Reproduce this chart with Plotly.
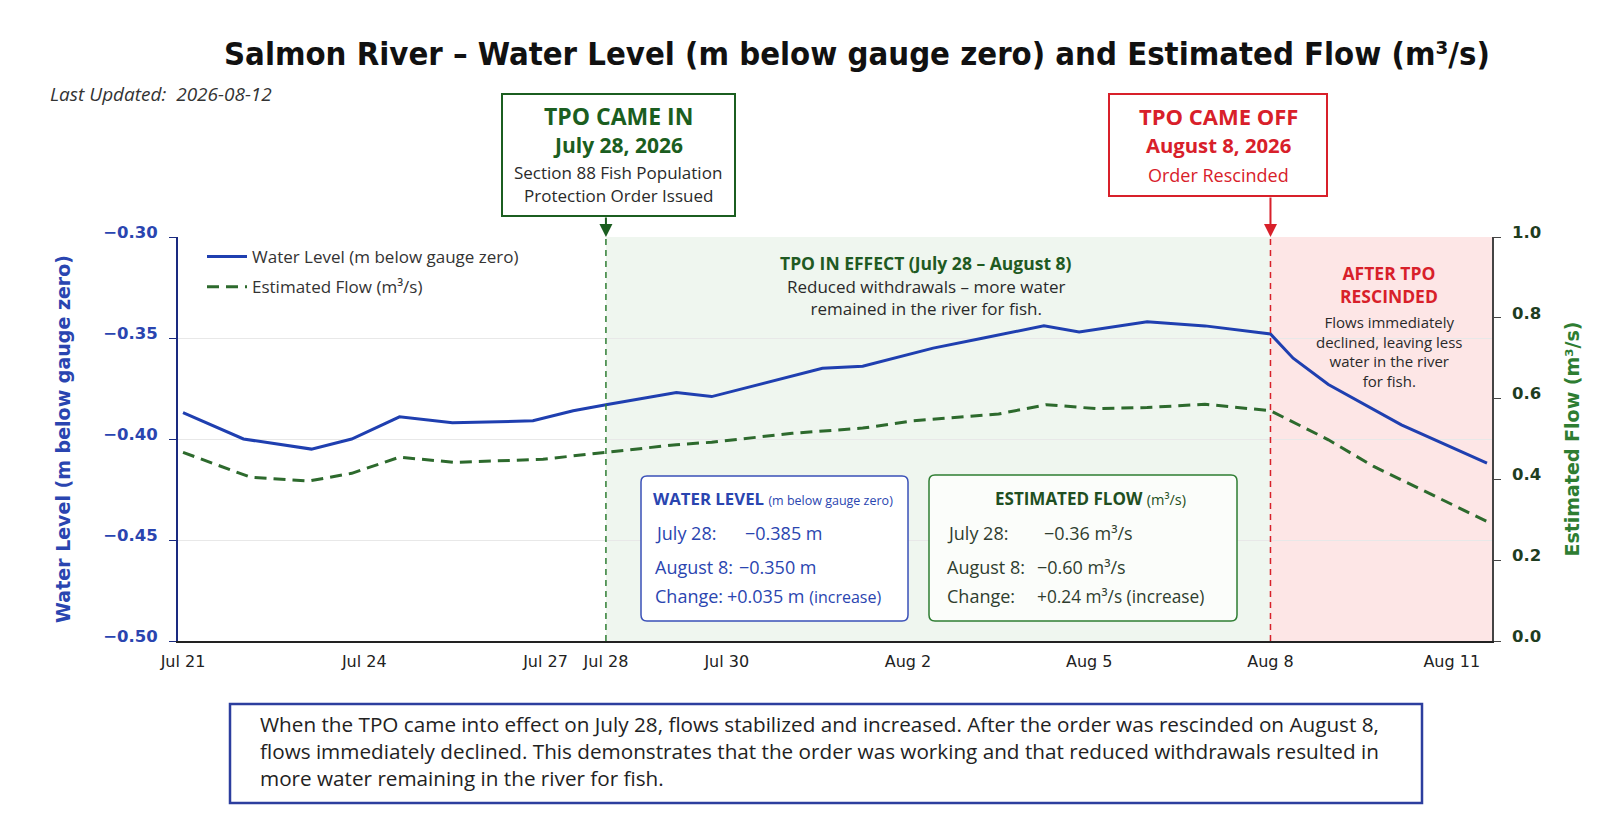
import plotly.graph_objects as go

# ---------------- data ----------------
level_times = ["2026-07-21 00:00", "2026-07-22 00:00", "2026-07-23 03:00", "2026-07-23 19:00",
               "2026-07-24 14:00", "2026-07-25 11:00", "2026-07-26 19:00", "2026-07-27 11:00",
               "2026-07-28 00:00", "2026-07-29 04:00", "2026-07-29 18:00", "2026-07-31 14:00",
               "2026-08-01 06:00", "2026-08-02 10:00", "2026-08-03 06:00", "2026-08-04 06:00",
               "2026-08-04 20:00", "2026-08-05 23:00", "2026-08-06 22:00", "2026-08-08 00:00",
               "2026-08-08 09:00", "2026-08-08 23:00", "2026-08-10 04:00", "2026-08-11 14:00"]
level_values = [-0.387, -0.400, -0.405, -0.400, -0.389, -0.392, -0.391, -0.386,
                -0.383, -0.377, -0.379, -0.365, -0.364, -0.355, -0.350, -0.344,
                -0.347, -0.342, -0.344, -0.348, -0.360, -0.373, -0.393, -0.412]

flow_times = ["2026-07-21 00:00", "2026-07-21 12:00", "2026-07-22 03:00", "2026-07-23 02:00",
              "2026-07-23 19:00", "2026-07-24 14:00", "2026-07-25 12:00", "2026-07-26 23:00",
              "2026-07-28 00:00", "2026-07-29 04:00", "2026-07-29 18:00", "2026-07-31 02:00",
              "2026-08-01 06:00", "2026-08-02 02:00", "2026-08-03 12:00", "2026-08-04 07:00",
              "2026-08-05 03:00", "2026-08-05 23:00", "2026-08-06 22:00", "2026-08-08 00:00",
              "2026-08-08 23:00", "2026-08-09 17:00", "2026-08-11 14:00"]
flow_values = [0.467, 0.440, 0.405, 0.396, 0.415, 0.455, 0.442, 0.450,
               0.467, 0.486, 0.492, 0.514, 0.527, 0.545, 0.562, 0.585,
               0.575, 0.578, 0.586, 0.570, 0.498, 0.432, 0.296]

x_tick_vals = ["2026-07-21", "2026-07-24", "2026-07-27", "2026-07-28", "2026-07-30",
               "2026-08-02", "2026-08-05", "2026-08-08", "2026-08-11"]
x_tick_text = ["Jul 21", "Jul 24", "Jul 27", "Jul 28", "Jul 30", "Aug 2", "Aug 5", "Aug 8", "Aug 11"]
y_left_ticks = [-0.50, -0.45, -0.40, -0.35, -0.30]
y_right_ticks = [0.0, 0.2, 0.4, 0.6, 0.8, 1.0]

x_range = ["2026-07-20 22:00", "2026-08-11 16:00"]
tpo_start = "2026-07-28"
tpo_end = "2026-08-08"

summary_lines = [
    "When the TPO came into effect on July 28, flows stabilized and increased. After the order was rescinded on August 8,",
    "flows immediately declined. This demonstrates that the order was working and that reduced withdrawals resulted in",
    "more water remaining in the river for fish.",
]

# ---------------- layout helpers ----------------
W, H = 1606, 837
L, R, T, B = 170, 1484, 229, 633
BODY = "Open Sans, Liberation Sans, sans-serif"
AXISF = "DejaVu Sans, sans-serif"
TITLEF = "DejaVu Sans Condensed, DejaVu Sans, sans-serif"

BLUE = "#1f3fb0"
BLUE_TXT = "#2a45b0"
GREEN_LINE = "#2d6a2d"
RED = "#d8202a"
DARK = "#2a2a2a"
FLOW_TXT = "#2f3d2f"


def px(x):
    return (x - L) / (R - L)


def py(y):
    return (B - y) / (B - T)


def txt(x, y, s, size, color, xanchor="center", family=BODY, align="center"):
    return dict(x=px(x), y=py(y), xref="paper", yref="paper", text=s, showarrow=False,
                font=dict(size=size, color=color, family=family), xanchor=xanchor, yanchor="middle",
                align=align)


def rect(x0, y0, x1, y1, color, width, fill="white"):
    return dict(type="rect", xref="paper", yref="paper", x0=px(x0), x1=px(x1), y0=py(y1), y1=py(y0),
                line=dict(color=color, width=width), fillcolor=fill, layer="above")


def rrect(x0, y0, x1, y1, r, color, width, fill="white"):
    pts = lambda x, y: f"{px(x):.5f},{py(y):.5f}"
    path = (f"M {pts(x0 + r, y0)} L {pts(x1 - r, y0)} Q {pts(x1, y0)} {pts(x1, y0 + r)} "
            f"L {pts(x1, y1 - r)} Q {pts(x1, y1)} {pts(x1 - r, y1)} "
            f"L {pts(x0 + r, y1)} Q {pts(x0, y1)} {pts(x0, y1 - r)} "
            f"L {pts(x0, y0 + r)} Q {pts(x0, y0)} {pts(x0 + r, y0)} Z")
    return dict(type="path", xref="paper", yref="paper", path=path,
                line=dict(color=color, width=width), fillcolor=fill, layer="above")


fig = go.Figure()
fig.add_trace(go.Scatter(x=level_times, y=level_values, mode="lines",
                         name="Water Level (m below gauge zero)", legendgroup="a",
                         line=dict(color=BLUE, width=3), yaxis="y"))
fig.add_trace(go.Scatter(x=flow_times, y=flow_values, mode="lines",
                         name="Estimated Flow (m³/s)", legendgroup="b",
                         line=dict(color=GREEN_LINE, width=3, dash="12px,7px"), yaxis="y2"))

shapes = [
    dict(type="rect", xref="x", yref="paper", x0=tpo_start, x1=tpo_end, y0=0, y1=1,
         fillcolor="rgba(76,160,80,0.09)", line=dict(width=0), layer="below"),
    dict(type="rect", xref="x", yref="paper", x0=tpo_end, x1=x_range[1], y0=0, y1=1,
         fillcolor="rgba(240,80,80,0.14)", line=dict(width=0), layer="below"),
    dict(type="line", xref="x", yref="paper", x0=tpo_start, x1=tpo_start, y0=0, y1=1,
         line=dict(color="#2e7d32", width=1.5, dash="6px,5px")),
    dict(type="line", xref="x", yref="paper", x0=tpo_end, x1=tpo_end, y0=0, y1=1,
         line=dict(color=RED, width=1.5, dash="6px,5px")),
    rect(494, 86, 727, 208, "#1b5e20", 2),
    rect(1101, 86, 1319, 188, RED, 2),
    rrect(633, 468, 900, 613, 6, "#3a50b8", 1.5),
    rrect(921, 467, 1229, 613, 6, "#2e7d32", 1.5, fill="#fbfdfa"),
    rect(222, 696, 1414, 795, "#2c3e9e", 2.5),
]

ann = [
    txt(849, 46, "<b>Salmon River – Water Level (m below gauge zero) and Estimated Flow (m³/s)</b>", 32.6, "#111",
        family=TITLEF),
    txt(40, 86, "<i>Last Updated:  2026-08-12</i>", 19, "#333", xanchor="left"),
    # TPO came in box
    txt(610, 108, "<b>TPO CAME IN</b>", 23, "#1b5e20"),
    txt(610, 137, "<b>July 28, 2026</b>", 21, "#1b5e20"),
    txt(610, 164, "Section 88 Fish Population", 17, DARK),
    txt(610, 188, "Protection Order Issued", 17, DARK),
    # TPO came off box
    txt(1210, 108, "<b>TPO CAME OFF</b>", 22, RED),
    txt(1210, 137, "<b>August 8, 2026</b>", 20.3, RED),
    txt(1210, 167, "Order Rescinded", 18, RED),
    # arrows
    dict(x=tpo_start, y=1, xref="x", yref="paper", ax=0, ay=-21, text="", showarrow=True,
         arrowhead=2, arrowsize=1.3, arrowwidth=2, arrowcolor="#1b5e20", standoff=0),
    dict(x=tpo_end, y=1, xref="x", yref="paper", ax=0, ay=-41, text="", showarrow=True,
         arrowhead=2, arrowsize=1.3, arrowwidth=2, arrowcolor=RED, standoff=0),
    # in-effect text
    txt(918, 255, "<b>TPO IN EFFECT (July 28 – August 8)</b>", 17.5, "#1f5a22"),
    txt(918, 289, "Reduced withdrawals – more water<br>remained in the river for fish.", 17, DARK),
    # after text
    txt(1381, 276, "<b>AFTER TPO<br>RESCINDED</b>", 17.5, RED),
    txt(1381, 343, "Flows immediately<br>declined, leaving less<br>water in the river<br>for fish.", 15, DARK),
    # stats box 1
    txt(643, 490, "<b>WATER LEVEL</b> <span style='font-size:12.5px'>(m below gauge zero)</span>", 16.8, BLUE_TXT, xanchor="left"),
    txt(645, 525, "July 28:", 18, BLUE_TXT, xanchor="left"),
    txt(735, 525, "−0.385 m", 18, BLUE_TXT, xanchor="left"),
    txt(645, 559, "August 8:", 18, BLUE_TXT, xanchor="left"),
    txt(729, 559, "−0.350 m", 18, BLUE_TXT, xanchor="left"),
    txt(645, 588, "Change:", 18, BLUE_TXT, xanchor="left"),
    txt(717, 588, "+0.035 m <span style='font-size:16px'>(increase)</span>", 18, BLUE_TXT, xanchor="left"),
    # stats box 2
    txt(1082, 490, "<b>ESTIMATED FLOW</b> <span style='font-size:14.5px'>(m³/s)</span>", 17, "#1f4f22"),
    txt(937, 525, "July 28:", 18, FLOW_TXT, xanchor="left"),
    txt(1034, 525, "−0.36 m³/s", 18, FLOW_TXT, xanchor="left"),
    txt(937, 559, "August 8:", 18, FLOW_TXT, xanchor="left"),
    txt(1027, 559, "−0.60 m³/s", 18, FLOW_TXT, xanchor="left"),
    txt(937, 588, "Change:", 18, FLOW_TXT, xanchor="left"),
    txt(1027, 588, "+0.24 m³/s (increase)", 17.3, FLOW_TXT, xanchor="left"),
    # bottom summary
    txt(250, 743, "<br>".join(summary_lines), 20.7, "#222", xanchor="left", align="left"),
]

fig.update_layout(
    width=W, height=H,
    margin=dict(l=L, r=W - R, t=T, b=H - B, pad=0),
    paper_bgcolor="white", plot_bgcolor="white",
    font=dict(family=BODY, color=DARK),
    showlegend=True,
    legend=dict(x=px(194), y=py(231), xanchor="left", yanchor="top", bgcolor="rgba(0,0,0,0)",
                font=dict(size=17, color="#333", family=BODY), tracegroupgap=5, itemwidth=40),
    xaxis=dict(type="date", range=x_range, tickvals=x_tick_vals, ticktext=x_tick_text,
               showgrid=False, zeroline=False, showline=True, linecolor="#222", linewidth=2,
               ticks="", tickfont=dict(size=16, color="#222", family=AXISF), ticklabelstandoff=5),
    yaxis=dict(range=[-0.5, -0.3], tickvals=y_left_ticks, tickformat=".2f",
               tickfont=dict(size=16.5, color=BLUE_TXT, weight="bold", family=AXISF),
               showgrid=True, gridcolor="#e8e8e8", gridwidth=1, zeroline=False,
               showline=True, linecolor="#1a2a80", linewidth=2, ticks="outside", ticklen=7,
               tickcolor="#1a2a80", ticklabelstandoff=8, ticklabelshift=-5,
               title=dict(text="<b>Water Level (m below gauge zero)</b>", standoff=28,
                          font=dict(size=19, color=BLUE_TXT, family=AXISF))),
    yaxis2=dict(range=[0, 1.0], tickvals=y_right_ticks, tickformat=".1f", overlaying="y", side="right",
                tickfont=dict(size=16.5, color="#1f3d1f", weight="bold", family=AXISF),
                showgrid=False, zeroline=False, showline=True, linecolor="#444", linewidth=1.5,
                ticks="outside", ticklen=7, tickcolor="#444", ticklabelstandoff=8, ticklabelshift=-5,
                title=dict(text="<b>Estimated Flow (m³/s)</b>", standoff=25,
                           font=dict(size=19, color="#2e7d32", family=AXISF))),
    shapes=shapes,
    annotations=ann,
)

fig.write_html("out.html")
